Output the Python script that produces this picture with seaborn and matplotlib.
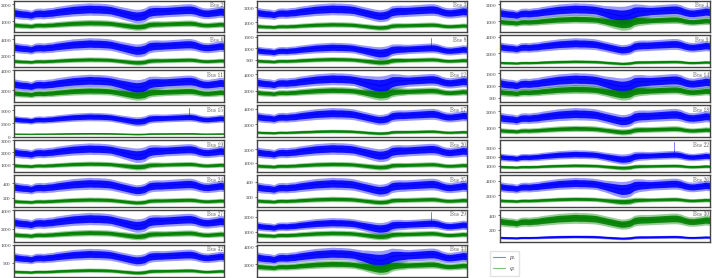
import numpy as np
import pandas as pd
import matplotlib
matplotlib.use('Agg')
import matplotlib.pyplot as plt
import seaborn as sns

sns.set_style('white')
plt.rcParams['font.family'] = ['cmr10', 'DejaVu Serif']
plt.rcParams['mathtext.fontset'] = 'cm'
plt.rcParams['axes.formatter.use_mathtext'] = True

# bus names, row by row
buses = ['Bus 2', 'Bus 3', 'Bus 4', 'Bus 6', 'Bus 8', 'Bus 9', 'Bus 11', 'Bus 12',
         'Bus 14', 'Bus 15', 'Bus 17', 'Bus 18', 'Bus 19', 'Bus 20', 'Bus 22',
         'Bus 24', 'Bus 25', 'Bus 26', 'Bus 27', 'Bus 29', 'Bus 30', 'Bus 32', 'Bus 33']

# shared load shape (relative), sampled along the time axis
time_frac = [0.00, 0.02, 0.04, 0.06, 0.08, 0.10, 0.12, 0.14, 0.16, 0.18,
             0.20, 0.22, 0.24, 0.26, 0.28, 0.30, 0.32, 0.34, 0.36, 0.38,
             0.40, 0.42, 0.44, 0.46, 0.48, 0.50, 0.52, 0.54, 0.56, 0.58,
             0.60, 0.62, 0.64, 0.66, 0.68, 0.70, 0.72, 0.74, 0.76, 0.78,
             0.80, 0.82, 0.84, 0.86, 0.88, 0.90, 0.92, 0.94, 0.96, 0.98, 1.00]
shape = [1.00, 0.97, 0.95, 0.94, 0.91, 0.97, 0.98, 0.97, 0.99, 1.00,
         1.03, 1.05, 1.07, 1.09, 1.11, 1.12, 1.13, 1.14, 1.15, 1.14,
         1.14, 1.13, 1.12, 1.10, 1.06, 1.02, 0.98, 0.94, 0.90, 0.87,
         0.88, 0.92, 1.02, 1.05, 1.06, 1.06, 1.07, 1.08, 1.09, 1.10,
         1.11, 1.12, 1.12, 1.09, 1.03, 0.99, 0.98, 1.00, 1.02, 1.05, 1.03]
# extra widening of the noise band in the mid-year dip
dip_widen = [0, 0, 0, 0, 0, 0, 0, 0, 0, 0,
             0, 0, 0, 0, 0, 0, 0, 0, 0, 0,
             0, 0, 0, 0, 0.1, 0.2, 0.4, 0.6, 0.8, 1.0,
             1.0, 0.9, 0.5, 0.3, 0.2, 0.1, 0, 0, 0, 0,
             0, 0, 0, 0, 0, 0, 0, 0, 0, 0, 0]

# base levels of the two series per bus
p_base = [1500, 1650, 1500, 3000, 900, 2800, 2600, 3000, 1100, 3300, 3000, 1600,
          2000, 1800, 2000, 350, 330, 3200, 2700, 1400, 90, 650, 2800]
q_base = [800, 750, 1000, 1300, 450, 900, 1700, 1800, 750, 500, 1000, 800,
          900, 800, 900, 150, 150, 1300, 1400, 800, 320, 250, 1800]
# how strongly each bus widens in the dip
volatility = [0.4, 0.3, 1.0, 0.4, 0.6, 0.2, 0.6, 1.0, 0.7, 0.4, 0.2, 0.3,
              0.6, 0.4, 0.5, 0.2, 0.3, 0.8, 0.4, 0.5, 0.2, 0.3, 1.0]
# relative half width of the noise band: dense core and faint outer fringe
core_spread = 0.13
fringe_spread = 0.21

# y ticks per bus
yticks = [[1000, 2000], [1000, 2000], [1000, 2000], [2000, 4000], [500, 1000, 1500],
          [2000, 4000], [2000, 4000], [2000, 4000], [500, 1000, 1500], [0, 2500, 5000],
          [2000, 4000], [1000, 2000], [1000, 2000, 3000], [1000, 2000], [1000, 2000, 3000],
          [200, 400], [200, 400], [2000, 4000], [2000, 4000], [1000, 2000], [200, 400],
          [500, 1000], [2000, 4000]]

# isolated spikes of the first series
spike_bus = ['Bus 8', 'Bus 15', 'Bus 22', 'Bus 29']
spike_t = [0.83, 0.83, 0.83, 0.83]
spike_val = [1450, 5500, 3600, 2300]

fig = plt.figure(figsize=(7.12, 2.78), dpi=100)
gs = fig.add_gridspec(8, 3, left=0.02, right=0.997, top=0.998, bottom=0.004,
                      hspace=0.094, wspace=0.155)

pal = {'p': '#0000ff', 'q': '#008000'}
shape = np.array(shape)
dip_widen = np.array(dip_widen)


def band_frame(i, spread):
    rows = []
    sp = spread * (1 + 1.1 * dip_widen * volatility[i])
    for key, base in [('p', p_base[i]), ('q', q_base[i])]:
        lvl = base * shape
        for f in (1 - sp, np.ones_like(sp), 1 + sp):
            rows.append(pd.DataFrame({'t': time_frac, 'v': lvl * f, 's': key}))
    return pd.concat(rows, ignore_index=True)


for i, bus in enumerate(buses):
    ax = fig.add_subplot(gs[i // 3, i % 3])
    # faint fringe then dense core
    sns.lineplot(data=band_frame(i, fringe_spread), x='t', y='v', hue='s',
                 palette=pal, ax=ax, estimator='mean', errorbar=('pi', 100),
                 legend=False, linewidth=0, err_kws={'alpha': 0.4, 'linewidth': 0})
    sns.lineplot(data=band_frame(i, core_spread), x='t', y='v', hue='s',
                 palette=pal, ax=ax, estimator='mean', errorbar=('pi', 100),
                 legend=False, linewidth=0.8, err_kws={'alpha': 0.9, 'linewidth': 0})
    if bus in spike_bus:
        k = spike_bus.index(bus)
        j = int(round(spike_t[k] / 0.02))
        ax.plot([spike_t[k], spike_t[k]], [p_base[i] * shape[j], spike_val[k]],
                color='#0000ff', lw=0.6, alpha=0.6)
    ax.set_xlim(0, 1)
    ax.margins(y=0.08)
    ax.set_xticks([])
    ax.set_yticks(yticks[i])
    ax.set_xlabel('')
    ax.set_ylabel('')
    ax.tick_params(axis='y', labelsize=3.6, length=1.2, width=0.5, pad=0.6,
                   colors='#333333', left=True)
    for s in ax.spines.values():
        s.set_color('#444444')
        s.set_linewidth(1.0)
    ax.text(0.995, 0.95, bus, transform=ax.transAxes, ha='right', va='top',
            fontsize=3.9, color='#555555')

handles = [plt.Line2D([], [], color='#0000ff', lw=0.8, alpha=0.5),
           plt.Line2D([], [], color='#008000', lw=0.8, alpha=0.5)]
fig.legend(handles, ['$p_L$', '$q_L$'], loc='upper left',
           bbox_to_anchor=(0.684, 0.106), fontsize=4.0, frameon=True,
           handlelength=2.2, borderpad=0.5, labelspacing=0.6,
           edgecolor='#dddddd', fancybox=False)

fig.savefig('out.png', dpi=100)
